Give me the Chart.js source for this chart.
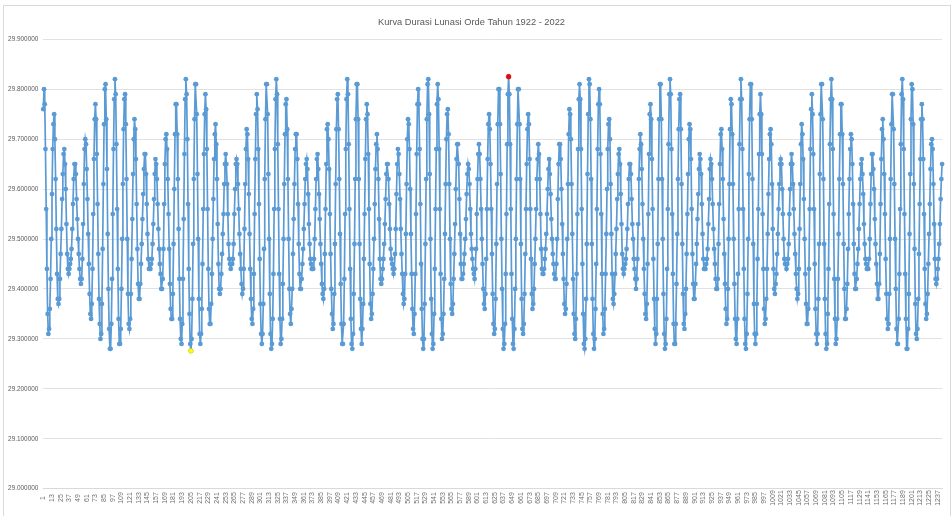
<!DOCTYPE html>
<html>
<head>
<meta charset="utf-8">
<script src="https://cdn.jsdelivr.net/npm/chart.js@4.4.1/dist/chart.umd.min.js"></script>
<style>
  html, body { margin: 0; padding: 0; background: #fff; }
  #wadah { position: relative; width: 952px; height: 516px; overflow: hidden; }
  #bingkai { position: absolute; left: 3px; top: 5px; width: 948px; height: 540px; border: 1px solid #d9d9d9; box-sizing: border-box; }
  #grafik { position: absolute; left: 0; top: 0; }
</style>
</head>
<body>
<div id="wadah">
  <div id="bingkai"></div>
  <canvas id="grafik" width="952" height="516"></canvas>
</div>
<script>
// Judul grafik
const judul = 'Kurva Durasi Lunasi Orde Tahun 1922 - 2022';

// Durasi tiap lunasi (hari)
const durasi = [
  29.76, 29.80, 29.77, 29.68, 29.56, 29.44, 29.35, 29.31, 29.32, 29.36,
  29.42, 29.50, 29.59, 29.68, 29.73, 29.75, 29.70, 29.62, 29.52, 29.43,
  29.38, 29.37, 29.38, 29.42, 29.47, 29.52, 29.58, 29.63, 29.67, 29.68,
  29.65, 29.60, 29.53, 29.47, 29.44, 29.43, 29.44, 29.45, 29.46, 29.48,
  29.52, 29.57, 29.62, 29.65, 29.65, 29.63, 29.58, 29.54, 29.50, 29.47,
  29.44, 29.42, 29.41, 29.42, 29.46, 29.53, 29.61, 29.68, 29.70, 29.69,
  29.64, 29.58, 29.51, 29.45, 29.39, 29.35, 29.34, 29.37, 29.44, 29.55,
  29.66, 29.74, 29.77, 29.74, 29.67, 29.57, 29.47, 29.38, 29.33, 29.30,
  29.31, 29.37, 29.48, 29.61, 29.73, 29.80, 29.81, 29.74, 29.64, 29.51,
  29.40, 29.32, 29.28, 29.28, 29.33, 29.42, 29.55, 29.68, 29.78, 29.82,
  29.79, 29.69, 29.56, 29.44, 29.34, 29.29, 29.29, 29.32, 29.40, 29.50,
  29.61, 29.72, 29.78, 29.79, 29.73, 29.62, 29.50, 29.39, 29.33, 29.32,
  29.34, 29.39, 29.46, 29.54, 29.63, 29.70, 29.74, 29.72, 29.66, 29.57,
  29.48, 29.41, 29.38, 29.38, 29.41, 29.45, 29.49, 29.54, 29.59, 29.64,
  29.67, 29.67, 29.63, 29.57, 29.51, 29.46, 29.44, 29.44, 29.44, 29.45,
  29.46, 29.49, 29.53, 29.58, 29.63, 29.66, 29.65, 29.62, 29.57, 29.52,
  29.48, 29.45, 29.43, 29.40, 29.40, 29.42, 29.48, 29.57, 29.65, 29.70,
  29.71, 29.68, 29.62, 29.55, 29.48, 29.41, 29.36, 29.34, 29.34, 29.39,
  29.49, 29.60, 29.71, 29.77, 29.77, 29.71, 29.62, 29.52, 29.42, 29.34,
  29.30, 29.29, 29.33, 29.42, 29.54, 29.67, 29.78, 29.82, 29.79, 29.70,
  29.57, 29.44, 29.35, 29.29, 29.276, 29.30, 29.38, 29.49, 29.62, 29.74,
  29.81, 29.81, 29.75, 29.63, 29.50, 29.38, 29.31, 29.29, 29.31, 29.36,
  29.45, 29.56, 29.67, 29.75, 29.79, 29.76, 29.68, 29.56, 29.44, 29.36,
  29.33, 29.33, 29.37, 29.43, 29.50, 29.58, 29.66, 29.71, 29.73, 29.69,
  29.62, 29.53, 29.45, 29.40, 29.39, 29.40, 29.43, 29.47, 29.51, 29.55,
  29.61, 29.65, 29.67, 29.65, 29.61, 29.55, 29.49, 29.46, 29.45, 29.44,
  29.45, 29.45, 29.46, 29.49, 29.55, 29.60, 29.65, 29.66, 29.65, 29.61,
  29.56, 29.51, 29.47, 29.44, 29.41, 29.39, 29.40, 29.44, 29.52, 29.61,
  29.68, 29.72, 29.71, 29.66, 29.59, 29.51, 29.44, 29.38, 29.34, 29.33,
  29.36, 29.43, 29.55, 29.66, 29.75, 29.79, 29.76, 29.68, 29.57, 29.46,
  29.37, 29.31, 29.29, 29.31, 29.37, 29.48, 29.62, 29.74, 29.81, 29.81,
  29.75, 29.63, 29.50, 29.39, 29.31, 29.28, 29.29, 29.34, 29.43, 29.56,
  29.68, 29.78, 29.82, 29.79, 29.69, 29.56, 29.43, 29.34, 29.29, 29.30,
  29.34, 29.41, 29.50, 29.61, 29.71, 29.77, 29.78, 29.72, 29.62, 29.50,
  29.40, 29.35, 29.33, 29.36, 29.40, 29.47, 29.54, 29.61, 29.68, 29.71,
  29.71, 29.66, 29.57, 29.49, 29.43, 29.40, 29.40, 29.42, 29.45, 29.48,
  29.52, 29.57, 29.62, 29.65, 29.66, 29.64, 29.59, 29.53, 29.49, 29.46,
  29.45, 29.44, 29.44, 29.44, 29.46, 29.50, 29.56, 29.62, 29.66, 29.67,
  29.64, 29.59, 29.54, 29.49, 29.45, 29.41, 29.39, 29.38, 29.40, 29.47,
  29.56, 29.65, 29.72, 29.73, 29.70, 29.64, 29.55, 29.47, 29.40, 29.35,
  29.32, 29.33, 29.39, 29.49, 29.61, 29.72, 29.78, 29.79, 29.72, 29.62,
  29.51, 29.41, 29.33, 29.29, 29.29, 29.33, 29.42, 29.55, 29.68, 29.78,
  29.82, 29.79, 29.69, 29.56, 29.44, 29.34, 29.29, 29.28, 29.31, 29.39,
  29.49, 29.62, 29.74, 29.81, 29.81, 29.74, 29.62, 29.49, 29.38, 29.32,
  29.29, 29.32, 29.37, 29.46, 29.55, 29.66, 29.74, 29.77, 29.75, 29.67,
  29.56, 29.45, 29.37, 29.34, 29.35, 29.39, 29.44, 29.50, 29.57, 29.64,
  29.69, 29.71, 29.68, 29.62, 29.54, 29.46, 29.42, 29.41, 29.42, 29.44,
  29.46, 29.49, 29.53, 29.58, 29.63, 29.65, 29.65, 29.62, 29.57, 29.52,
  29.48, 29.46, 29.45, 29.44, 29.43, 29.44, 29.47, 29.52, 29.59, 29.65,
  29.68, 29.67, 29.63, 29.58, 29.52, 29.47, 29.43, 29.39, 29.37, 29.38,
  29.43, 29.51, 29.61, 29.70, 29.74, 29.73, 29.68, 29.60, 29.51, 29.43,
  29.36, 29.32, 29.31, 29.35, 29.43, 29.55, 29.67, 29.77, 29.80, 29.77,
  29.68, 29.57, 29.45, 29.36, 29.30, 29.28, 29.30, 29.37, 29.49, 29.62,
  29.74, 29.81, 29.82, 29.75, 29.63, 29.50, 29.38, 29.31, 29.28, 29.29,
  29.35, 29.44, 29.56, 29.68, 29.77, 29.81, 29.78, 29.68, 29.56, 29.43,
  29.34, 29.30, 29.31, 29.35, 29.42, 29.51, 29.61, 29.70, 29.75, 29.76,
  29.71, 29.61, 29.50, 29.41, 29.36, 29.35, 29.37, 29.42, 29.47, 29.53,
  29.60, 29.66, 29.69, 29.69, 29.65, 29.58, 29.51, 29.45, 29.42, 29.42,
  29.43, 29.45, 29.47, 29.50, 29.54, 29.59, 29.63, 29.65, 29.64, 29.61,
  29.56, 29.51, 29.48, 29.46, 29.44, 29.43, 29.42, 29.44, 29.48, 29.55,
  29.62, 29.67, 29.69, 29.67, 29.62, 29.56, 29.50, 29.45, 29.40, 29.37,
  29.36, 29.39, 29.46, 29.56, 29.66, 29.73, 29.75, 29.72, 29.65, 29.56,
  29.47, 29.39, 29.33, 29.31, 29.32, 29.38, 29.49, 29.61, 29.73, 29.80,
  29.80, 29.73, 29.63, 29.50, 29.40, 29.32, 29.28, 29.29, 29.33, 29.43,
  29.55, 29.69, 29.79, 29.825, 29.79, 29.69, 29.56, 29.43, 29.34, 29.29,
  29.28, 29.32, 29.40, 29.50, 29.62, 29.73, 29.80, 29.80, 29.73, 29.62,
  29.49, 29.38, 29.32, 29.31, 29.33, 29.39, 29.47, 29.56, 29.65, 29.72,
  29.75, 29.73, 29.66, 29.56, 29.46, 29.39, 29.36, 29.37, 29.40, 29.45,
  29.50, 29.56, 29.62, 29.66, 29.69, 29.67, 29.62, 29.55, 29.48, 29.44,
  29.43, 29.43, 29.44, 29.46, 29.48, 29.51, 29.55, 29.60, 29.64, 29.66,
  29.63, 29.59, 29.54, 29.50, 29.47, 29.45, 29.43, 29.42, 29.42, 29.45,
  29.50, 29.58, 29.65, 29.69, 29.69, 29.66, 29.60, 29.53, 29.47, 29.42,
  29.37, 29.35, 29.36, 29.41, 29.50, 29.61, 29.71, 29.76, 29.75, 29.70,
  29.61, 29.51, 29.42, 29.35, 29.31, 29.30, 29.34, 29.43, 29.55, 29.68,
  29.78, 29.81, 29.78, 29.68, 29.56, 29.45, 29.35, 29.29, 29.28, 29.30,
  29.38, 29.49, 29.63, 29.75, 29.82, 29.81, 29.74, 29.62, 29.49, 29.38,
  29.31, 29.28, 29.30, 29.36, 29.45, 29.56, 29.68, 29.77, 29.80, 29.77,
  29.67, 29.55, 29.43, 29.35, 29.31, 29.32, 29.36, 29.43, 29.51, 29.60,
  29.68, 29.73, 29.74, 29.70, 29.61, 29.51, 29.43, 29.38, 29.37, 29.39,
  29.43, 29.47, 29.52, 29.58, 29.63, 29.67, 29.68, 29.65, 29.59, 29.53,
  29.47, 29.44, 29.43, 29.44, 29.45, 29.46, 29.48, 29.52, 29.57, 29.62,
  29.65, 29.65, 29.63, 29.58, 29.53, 29.50, 29.46, 29.44, 29.42, 29.40,
  29.42, 29.46, 29.53, 29.62, 29.68, 29.71, 29.69, 29.64, 29.57, 29.50,
  29.44, 29.39, 29.35, 29.34, 29.37, 29.45, 29.55, 29.67, 29.75, 29.77,
  29.74, 29.66, 29.56, 29.46, 29.38, 29.32, 29.29, 29.31, 29.38, 29.49,
  29.62, 29.74, 29.81, 29.81, 29.74, 29.62, 29.50, 29.39, 29.31, 29.28,
  29.29, 29.34, 29.44, 29.56, 29.69, 29.79, 29.82, 29.79, 29.68, 29.55,
  29.43, 29.33, 29.29, 29.29, 29.33, 29.41, 29.51, 29.62, 29.72, 29.78,
  29.79, 29.72, 29.61, 29.49, 29.39, 29.33, 29.32, 29.35, 29.40, 29.47,
  29.55, 29.63, 29.70, 29.73, 29.72, 29.66, 29.56, 29.47, 29.41, 29.38,
  29.38, 29.41, 29.45, 29.49, 29.54, 29.59, 29.64, 29.67, 29.66, 29.63,
  29.57, 29.51, 29.46, 29.44, 29.44, 29.44, 29.45, 29.46, 29.48, 29.53,
  29.58, 29.64, 29.66, 29.65, 29.62, 29.57, 29.52, 29.48, 29.45, 29.42,
  29.40, 29.40, 29.42, 29.49, 29.57, 29.65, 29.71, 29.72, 29.68, 29.62,
  29.54, 29.47, 29.41, 29.36, 29.33, 29.34, 29.40, 29.50, 29.61, 29.72,
  29.78, 29.77, 29.71, 29.61, 29.50, 29.41, 29.34, 29.30, 29.29, 29.34,
  29.43, 29.56, 29.69, 29.78, 29.82, 29.78, 29.68, 29.56, 29.44, 29.34,
  29.29, 29.28, 29.31, 29.39, 29.50, 29.63, 29.74, 29.81, 29.81, 29.74,
  29.62, 29.49, 29.37, 29.31, 29.29, 29.31, 29.37, 29.46, 29.56, 29.67,
  29.75, 29.79, 29.75, 29.67, 29.55, 29.44, 29.36, 29.33, 29.34, 29.38,
  29.44, 29.51, 29.59, 29.66, 29.71, 29.72, 29.69, 29.61, 29.52, 29.44,
  29.40, 29.39, 29.41, 29.43, 29.47, 29.51, 29.56, 29.61, 29.65, 29.66,
  29.65, 29.60, 29.55, 29.50, 29.46, 29.45, 29.45, 29.44, 29.45, 29.46,
  29.49, 29.55, 29.60, 29.65, 29.67, 29.65, 29.61, 29.56, 29.51, 29.47,
  29.43, 29.40, 29.38, 29.39, 29.44, 29.52, 29.61, 29.69, 29.73, 29.71,
  29.66, 29.58, 29.50, 29.43, 29.37, 29.33, 29.33, 29.36, 29.44, 29.56,
  29.68, 29.76, 29.79, 29.75, 29.67, 29.56, 29.45, 29.36, 29.31, 29.29,
  29.31, 29.38, 29.49, 29.63, 29.75, 29.81, 29.81, 29.74, 29.62, 29.49,
  29.38, 29.31, 29.28, 29.29, 29.35, 29.44, 29.57, 29.69, 29.78, 29.82,
  29.78, 29.68, 29.55, 29.42, 29.34, 29.29, 29.30, 29.34, 29.42, 29.51,
  29.62, 29.71, 29.77, 29.77, 29.71, 29.61, 29.49, 29.40, 29.34, 29.34,
  29.36, 29.41, 29.48, 29.55, 29.62, 29.68, 29.71, 29.70, 29.65, 29.57,
  29.49, 29.43, 29.40, 29.40, 29.42, 29.45, 29.48, 29.52, 29.57, 29.62,
  29.65, 29.66, 29.63, 29.59, 29.53, 29.49, 29.46, 29.45, 29.44, 29.44,
  29.44, 29.46, 29.50, 29.57, 29.63, 29.67, 29.67, 29.64, 29.60, 29.54,
  29.49, 29.45, 29.41, 29.38, 29.38, 29.41, 29.47, 29.57, 29.66, 29.72,
  29.74, 29.70, 29.63, 29.55, 29.46, 29.39, 29.34, 29.32, 29.33, 29.39,
  29.50, 29.62, 29.73, 29.79, 29.79, 29.72, 29.61, 29.50, 29.40, 29.32,
  29.29, 29.29, 29.34, 29.43, 29.56, 29.69, 29.79, 29.82, 29.78, 29.68,
  29.55, 29.43, 29.34, 29.28, 29.28, 29.32, 29.39, 29.51, 29.63, 29.74,
  29.81, 29.80, 29.73, 29.61, 29.48, 29.37, 29.31, 29.30, 29.32, 29.38,
  29.47, 29.57, 29.66, 29.74, 29.77, 29.74, 29.66, 29.55, 29.44, 29.37,
  29.34, 29.35, 29.39, 29.45, 29.51, 29.57, 29.64, 29.69, 29.70, 29.68,
  29.61, 29.53, 29.46, 29.42, 29.41, 29.42, 29.44, 29.46, 29.49, 29.53,
  29.58, 29.62, 29.65
];

// Nomor urut lunasi (kategori sumbu X)
const lunasi = durasi.map((_, i) => String(i + 1));

// Sumbu Y
const yMin = 29.0;
const yMax = 29.9;
const yStep = 0.1;

// Label sumbu X muncul tiap 12 lunasi
const langkahLabel = 12;

// Titik ekstrem yang diberi warna lain
const iMaks = durasi.indexOf(Math.max(...durasi));
const iMin = durasi.indexOf(Math.min(...durasi));
const ekstrem = durasi.map((v, i) => (i === iMaks || i === iMin) ? v : null);

const warnaGaris = '#5B9BD5';
const warnaTeks = '#595959';

new Chart(document.getElementById('grafik'), {
    type: 'line',
    data: {
        labels: lunasi,
        datasets: [
            {
                label: 'Ekstrem',
                data: ekstrem,
                showLine: false,
                pointRadius: 2.4,
                pointBorderWidth: 0.5,
                pointBackgroundColor: ctx => ctx.dataIndex === iMaks ? '#FF0000' : '#FFFF00',
                pointBorderColor: ctx => ctx.dataIndex === iMaks ? '#C00000' : '#C8C800',
                order: -1
            },
            {
                label: 'Durasi',
                data: durasi,
                borderColor: warnaGaris,
                borderWidth: 1.7,
                backgroundColor: warnaGaris,
                pointRadius: 2.4,
                pointBorderWidth: 0,
                pointBackgroundColor: warnaGaris,
                tension: 0,
                order: 0
            }
        ]
    },
    options: {
        responsive: false,
        animation: false,
        devicePixelRatio: 1,
        layout: { padding: { left: 0, right: 9, top: 0, bottom: 0 } },
        plugins: {
            legend: { display: false },
            tooltip: { enabled: false },
            title: {
                display: true,
                text: judul,
                color: warnaTeks,
                font: { family: 'Liberation Sans', size: 9.3, weight: 'normal' },
                padding: { top: 16.5, bottom: 11.6 }
            }
        },
        scales: {
            x: {
                offset: false,
                grid: { display: false, drawTicks: false },
                border: { display: true, color: '#d9d9d9' },
                ticks: {
                    autoSkip: false,
                    minRotation: 90,
                    maxRotation: 90,
                    padding: 1.5,
                    color: '#6f6f6f',
                    font: { family: 'Liberation Sans', size: 7 },
                    // label diberi spasi di belakang supaya posisinya di tengah seperti Excel
                    callback: (v, i) => {
                        if (i % langkahLabel !== 0) return '';
                        const s = lunasi[i];
                        return s + ' '.repeat(Math.max(0, 4 - s.length));
                    }
                },
                afterFit: s => { s.height = 27.3; }
            },
            y: {
                min: yMin,
                max: yMax,
                grid: { color: '#e1e1e1', drawTicks: false },
                border: { display: false },
                ticks: {
                    stepSize: yStep,
                    padding: 5,
                    color: warnaTeks,
                    font: { family: 'Liberation Sans', size: 6.4 },
                    callback: v => v.toFixed(6)
                },
                afterFit: s => { s.width = 43.3; }
            }
        }
    }
});
</script>
</body>
</html>
